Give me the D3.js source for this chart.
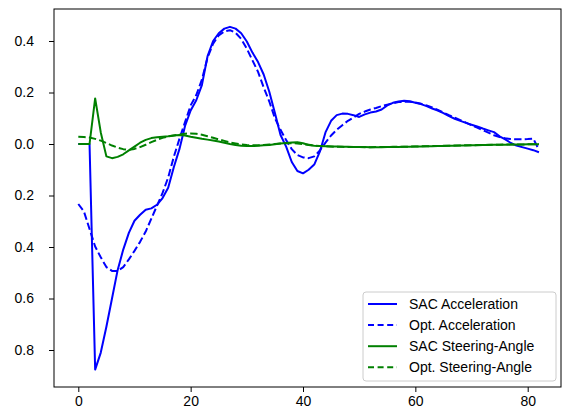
<!DOCTYPE html>
<html>
<head>
<meta charset="utf-8">
<script src="https://cdn.jsdelivr.net/npm/d3@7"></script>
<style>
    body { margin: 0; background: #fff; }
    #chart-one { width: 563px; height: 412px; }
    text { font-family: "Liberation Sans", Arial, sans-serif; }
</style>
</head>
<body>
<div id="chart-one" class="chart__viz"></div>
<script>
//Datos
let steps = [
    0, 1, 2, 3, 4, 5, 6, 7, 8, 9,
    10, 11, 12, 13, 14, 15, 16, 17, 18, 19,
    20, 21, 22, 23, 24, 25, 26, 27, 28, 29,
    30, 31, 32, 33, 34, 35, 36, 37, 38, 39,
    40, 41, 42, 43, 44, 45, 46, 47, 48, 49,
    50, 51, 52, 53, 54, 55, 56, 57, 58, 59,
    60, 61, 62, 63, 64, 65, 66, 67, 68, 69,
    70, 71, 72, 73, 74, 75, 76, 77, 78, 79,
    80, 81, 82
];

let sacAcceleration = [
    0, 0, 0, -0.876, -0.81, -0.71, -0.6, -0.49, -0.41, -0.345,
    -0.298, -0.275, -0.255, -0.25, -0.236, -0.21, -0.17, -0.09, -0.02, 0.07,
    0.13, 0.17, 0.229, 0.34, 0.4, 0.43, 0.448, 0.455, 0.448, 0.43,
    0.398, 0.355, 0.318, 0.27, 0.203, 0.12, 0.035, -0.01, -0.07, -0.105,
    -0.114, -0.1, -0.08, -0.03, 0.045, 0.09, 0.112, 0.118, 0.117, 0.112,
    0.105, 0.115, 0.122, 0.126, 0.134, 0.15, 0.16, 0.165, 0.168, 0.166,
    0.16, 0.155, 0.147, 0.138, 0.13, 0.12, 0.108, 0.098, 0.09, 0.082,
    0.075, 0.068, 0.06, 0.053, 0.046, 0.03, 0.018, 0.004, -0.006, -0.012,
    -0.018, -0.024, -0.032
];

let optAcceleration = [
    -0.233, -0.262, -0.33, -0.398, -0.44, -0.478, -0.493, -0.493, -0.478, -0.448,
    -0.415, -0.38, -0.34, -0.29, -0.24, -0.19, -0.13, -0.05, 0.02, 0.085,
    0.15, 0.19, 0.25, 0.335, 0.39, 0.422, 0.437, 0.442, 0.432, 0.408,
    0.37, 0.325, 0.28, 0.22, 0.165, 0.1, 0.055, 0.015, -0.02, -0.043,
    -0.052, -0.055, -0.048, -0.025, 0.005, 0.033, 0.055, 0.073, 0.09, 0.103,
    0.117, 0.126, 0.134, 0.14, 0.147, 0.153, 0.158, 0.163, 0.164, 0.164,
    0.161, 0.156, 0.15, 0.142, 0.132, 0.122, 0.112, 0.103, 0.093, 0.083,
    0.073, 0.064, 0.054, 0.044, 0.034, 0.027, 0.022, 0.019, 0.018, 0.018,
    0.019, 0.021, -0.023
];

let sacSteering = [
    0, 0, 0, 0.177, 0.045, -0.048, -0.055, -0.05, -0.04, -0.025,
    -0.01, 0.005, 0.016, 0.023, 0.026, 0.028, 0.03, 0.033, 0.035, 0.033,
    0.028, 0.024, 0.02, 0.017, 0.014, 0.01, 0.005, 0.0, -0.004, -0.007,
    -0.008, -0.008, -0.007, -0.005, -0.004, -0.001, 0.002, 0.004, 0.006, 0.007,
    0.003, -0.004, -0.007, -0.008, -0.009, -0.01, -0.01, -0.011, -0.011, -0.012,
    -0.012, -0.012, -0.013, -0.013, -0.013, -0.012, -0.012, -0.012, -0.011, -0.011,
    -0.01, -0.01, -0.009, -0.009, -0.008, -0.008, -0.007, -0.007, -0.006, -0.006,
    -0.005, -0.005, -0.004, -0.004, -0.003, -0.003, -0.003, -0.002, -0.002, -0.002,
    -0.001, -0.001, -0.001
];

let optSteering = [
    0.028, 0.027, 0.025, 0.02, 0.013, 0.004, -0.006, -0.014, -0.02, -0.023,
    -0.019, -0.012, -0.003, 0.007, 0.016, 0.024, 0.029, 0.033, 0.037, 0.04,
    0.041, 0.04, 0.036, 0.03, 0.024, 0.018, 0.012, 0.006, 0.002, -0.002,
    -0.004, -0.005, -0.005, -0.004, -0.002, 0.0, 0.002, 0.003, 0.003, 0.002,
    -0.001, -0.003, -0.006, -0.008, -0.009, -0.01, -0.011, -0.011, -0.012, -0.012,
    -0.012, -0.013, -0.013, -0.012, -0.012, -0.012, -0.011, -0.011, -0.011, -0.01,
    -0.01, -0.009, -0.009, -0.008, -0.008, -0.007, -0.007, -0.006, -0.006, -0.005,
    -0.005, -0.004, -0.004, -0.003, -0.003, -0.003, -0.002, -0.002, -0.002, -0.002,
    -0.001, -0.001, -0.001
];

let seriesNames = ['SAC Acceleration', 'Opt. Acceleration', 'SAC Steering-Angle', 'Opt. Steering-Angle'];
let xTicks = [0, 20, 40, 60, 80];
let yTicks = [0.4, 0.2, 0.0, -0.2, -0.4, -0.6, -0.8];

function getFirstChart() {
    let chartBlock = d3.select('#chart-one');

    let series = [
        {name: seriesNames[0], values: sacAcceleration, color: '#0000ff', dash: null},
        {name: seriesNames[1], values: optAcceleration, color: '#0000ff', dash: '7.4,3.2'},
        {name: seriesNames[2], values: sacSteering, color: '#008000', dash: null},
        {name: seriesNames[3], values: optSteering, color: '#008000', dash: '7.4,3.2'}
    ];

    let svg = chartBlock.append('svg')
        .attr('width', 563)
        .attr('height', 412);

    //Caja de los ejes
    let box = {left: 54, right: 561, top: 9, bottom: 387};

    //Escalas
    let x = d3.scaleLinear()
        .domain([0, 80])
        .range([78.3, 527.7]);

    let y = d3.scaleLinear()
        .domain([-0.8, 0.4])
        .range([350, 41]);

    //Eje X
    let xAxis = function(g) {
        g.call(d3.axisBottom(x).tickValues(xTicks).tickSize(5).tickPadding(4).tickFormat(d3.format('d')));
        g.call(function(g) { g.select('.domain').remove(); });
        g.selectAll('.tick line').attr('stroke', '#000').attr('stroke-width', 1);
        g.selectAll('.tick text').attr('fill', '#000').style('font-size', '14px');
    };

    svg.append('g')
        .attr('transform', 'translate(0,' + box.bottom + ')')
        .call(xAxis);

    //Eje Y (sin signo menos, como en la imagen)
    let yAxis = function(g) {
        g.call(d3.axisLeft(y).tickValues(yTicks).tickSize(5).tickPadding(15)
            .tickFormat(function(d) { return d3.format('.1f')(Math.abs(d)); }));
        g.call(function(g) { g.select('.domain').remove(); });
        g.selectAll('.tick line').attr('stroke', '#000').attr('stroke-width', 1);
        g.selectAll('.tick text').attr('fill', '#000').style('font-size', '14px');
    };

    svg.append('g')
        .attr('transform', 'translate(' + box.left + ',0)')
        .call(yAxis);

    //Líneas
    let line = d3.line()
        .x(function(d, i) { return x(steps[i]); })
        .y(function(d) { return y(d); });

    svg.selectAll('.serie')
        .data(series)
        .enter()
        .append('path')
        .attr('class', 'serie')
        .attr('d', function(d) { return line(d.values); })
        .attr('fill', 'none')
        .attr('stroke', function(d) { return d.color; })
        .attr('stroke-width', 2)
        .attr('stroke-dasharray', function(d) { return d.dash; })
        .attr('stroke-linejoin', 'round');

    //Marco
    svg.append('rect')
        .attr('x', box.left)
        .attr('y', box.top)
        .attr('width', box.right - box.left)
        .attr('height', box.bottom - box.top)
        .attr('fill', 'none')
        .attr('stroke', '#000')
        .attr('stroke-width', 1);

    //Leyenda
    let legend = svg.append('g')
        .attr('transform', 'translate(363,292)');

    legend.append('rect')
        .attr('width', 193)
        .attr('height', 89)
        .attr('rx', 3)
        .attr('fill', '#fff')
        .attr('fill-opacity', 0.8)
        .attr('stroke', '#cccccc')
        .attr('stroke-width', 1);

    let items = legend.selectAll('.legend-item')
        .data(series)
        .enter()
        .append('g')
        .attr('class', 'legend-item')
        .attr('transform', function(d, i) { return 'translate(0,' + (12 + i * 21.1) + ')'; });

    items.append('line')
        .attr('x1', 5)
        .attr('x2', 34)
        .attr('stroke', function(d) { return d.color; })
        .attr('stroke-width', 2)
        .attr('stroke-dasharray', function(d) { return d.dash ? '6,3.6' : null; });

    items.append('text')
        .attr('x', 46)
        .attr('dy', '0.35em')
        .style('font-size', '14px')
        .attr('fill', '#000')
        .text(function(d) { return d.name; });
}

getFirstChart();
</script>
</body>
</html>
